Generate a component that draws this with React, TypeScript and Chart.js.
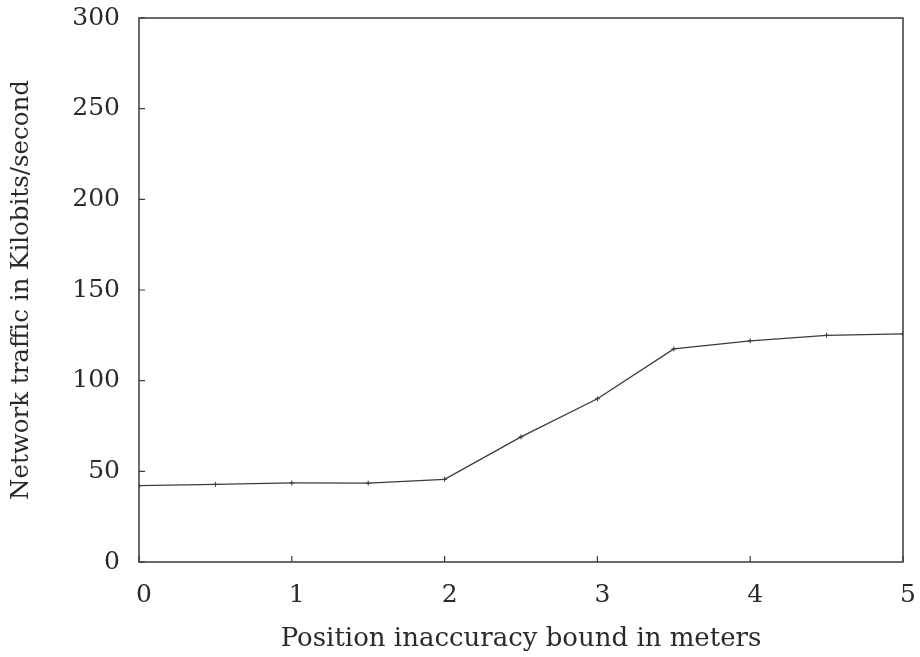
import React, { useEffect, useRef } from "react";
import { Chart, registerables } from "chart.js";

Chart.register(...registerables);

// Position inaccuracy bound (m) vs. network traffic (Kb/s)
const boundMeters = [0, 0.5, 1, 1.5, 2, 2.5, 3, 3.5, 4, 4.5, 5];
const trafficKbps = [42.1, 42.8, 43.6, 43.5, 45.6, 69, 90, 117.5, 122, 125, 125.8];
const xTicks = [0, 1, 2, 3, 4, 5];
const yTicks = [0, 50, 100, 150, 200, 250, 300];

const FONT = "'DejaVu Serif', 'Liberation Serif', serif";
const INK = "#3a3a3a";
const TEXT = "#2a2a2a";

// Frame around the plot area plus inward-pointing tick marks
const framePlugin = {
  id: "frame",
  afterDraw(chart: any) {
    const { ctx, chartArea: a, scales } = chart;
    ctx.save();
    ctx.strokeStyle = INK;
    ctx.lineWidth = 1.5;
    ctx.strokeRect(a.left, a.top, a.right - a.left, a.bottom - a.top);
    ctx.lineWidth = 1.2;
    ctx.beginPath();
    for (const v of yTicks) {
      const y = scales.y.getPixelForValue(v);
      ctx.moveTo(a.left, y);
      ctx.lineTo(a.left + 6, y);
    }
    for (const v of xTicks) {
      const x = scales.x.getPixelForValue(v);
      ctx.moveTo(x, a.bottom);
      ctx.lineTo(x, a.bottom - 6);
    }
    ctx.stroke();
    ctx.restore();
  },
};

export default function App() {
  const ref = useRef<HTMLCanvasElement>(null);

  useEffect(() => {
    if (!ref.current) return;
    const chart = new Chart(ref.current, {
      type: "line",
      data: {
        datasets: [
          {
            data: boundMeters.map((x, i) => ({ x, y: trafficKbps[i] })),
            borderColor: INK,
            borderWidth: 1.3,
            pointStyle: "cross",
            pointRadius: 2.5,
            pointBorderWidth: 1,
            pointBorderColor: INK,
            tension: 0,
            fill: false,
          },
        ],
      },
      options: {
        animation: false,
        responsive: false,
        layout: { padding: { top: 18, right: 17, left: 7, bottom: 2 } },
        plugins: { legend: { display: false }, tooltip: { enabled: false } },
        scales: {
          x: {
            type: "linear",
            min: 0,
            max: 5,
            afterBuildTicks: (s: any) => {
              s.ticks = xTicks.map((v) => ({ value: v }));
            },
            afterFit: (s: any) => {
              s.height = 93;
              s.paddingLeft = 0;
              s.paddingRight = 0;
            },
            grid: { display: false, drawTicks: false },
            border: { display: false },
            ticks: {
              color: TEXT,
              font: { family: FONT, size: 25 },
              padding: 18,
              labelOffset: 5,
              maxRotation: 0,
            },
            title: {
              display: true,
              text: "Position inaccuracy bound in meters",
              color: TEXT,
              font: { family: FONT, size: 26 },
              padding: { top: 0, bottom: 0 },
            },
          },
          y: {
            type: "linear",
            min: 0,
            max: 300,
            afterBuildTicks: (s: any) => {
              s.ticks = yTicks.map((v) => ({ value: v }));
            },
            afterFit: (s: any) => {
              s.width = 132;
              s.paddingTop = 0;
              s.paddingBottom = 0;
            },
            grid: { display: false, drawTicks: false },
            border: { display: false },
            ticks: {
              color: TEXT,
              font: { family: FONT, size: 25 },
              padding: 19,
            },
            title: {
              display: true,
              text: "Network traffic in Kilobits/second",
              color: TEXT,
              font: { family: FONT, size: 24.5 },
              padding: { top: 0, bottom: 0 },
            },
          },
        },
      },
      plugins: [framePlugin],
    });
    return () => chart.destroy();
  }, []);

  return (
    <div style={{ position: "fixed", left: 0, top: 0, width: 920, height: 657, background: "#fff" }}>
      <canvas ref={ref} width={920} height={657} />
    </div>
  );
}
